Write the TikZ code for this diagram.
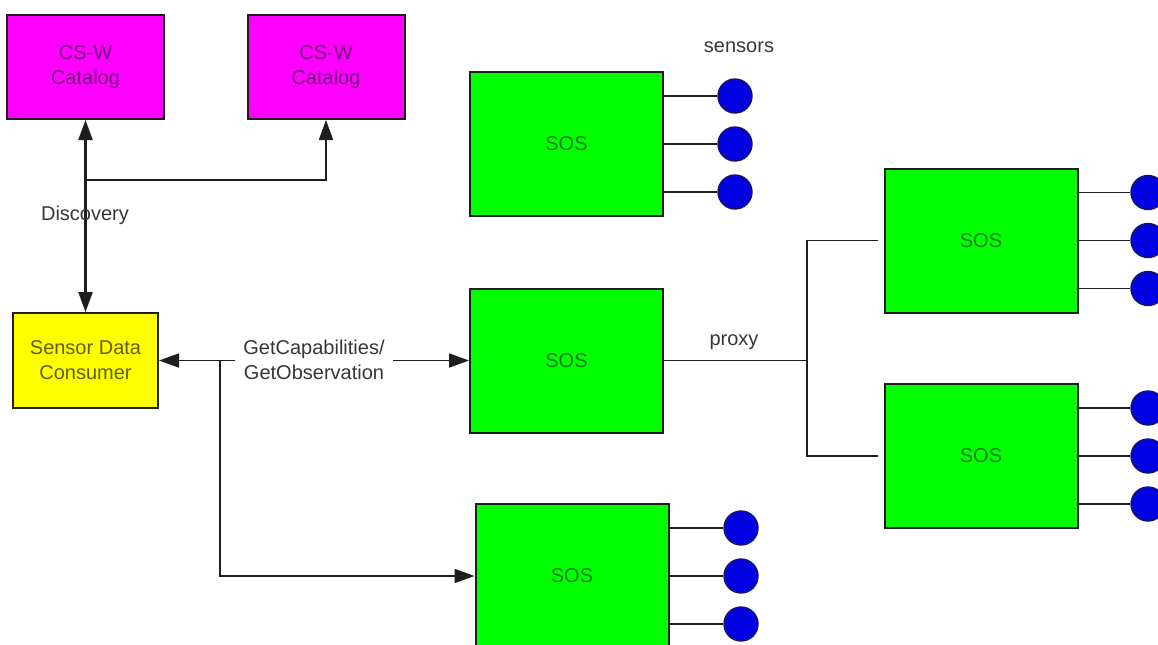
\documentclass[tikz,border=0pt]{standalone}
\usepackage{fontspec}
\setmainfont{Liberation Sans}
\usetikzlibrary{arrows.meta}
\definecolor{mag}{RGB}{255,0,255}
\definecolor{magtext}{RGB}{115,0,125}
\definecolor{yel}{RGB}{255,255,0}
\definecolor{yeltext}{RGB}{95,95,0}
\definecolor{grn}{RGB}{0,255,0}
\definecolor{grntext}{RGB}{0,128,0}
\definecolor{sblue}{RGB}{0,0,225}
\definecolor{sborder}{RGB}{20,20,110}
\definecolor{ltext}{RGB}{55,55,55}
\definecolor{lcol}{RGB}{30,30,30}
\begin{document}
\begin{tikzpicture}[x=0.5pt,y=-0.5pt,
  every node/.style={font=\fontsize{10}{12.5}\selectfont, align=center, inner sep=0pt},
  catbox/.style={draw=lcol, line width=1pt, fill=mag, text=magtext, minimum width=78.5pt, minimum height=52pt},
  consbox/.style={draw=lcol, line width=1pt, fill=yel, text=yeltext, minimum width=72.5pt, minimum height=47.5pt},
  sosbox/.style={draw=lcol, line width=1pt, fill=grn, text=grntext, minimum width=96.5pt, minimum height=72pt},
  sensor/.style={circle, draw=sborder, line width=0.7pt, fill=sblue, minimum size=17pt},
  conn/.style={draw=lcol, line width=0.9pt},
  arr/.style={conn, -{Triangle[length=10pt,width=7pt]}},
  darr/.style={conn, line width=1.1pt, {Triangle[length=10pt,width=7pt]}-{Triangle[length=10pt,width=7pt]}},
  lbl/.style={text=ltext}
]
\useasboundingbox (0,0) rectangle (1158,644);
\clip (0,0) rectangle (1158,644);
\fill[white] (0,0) rectangle (1158,644);

% catalogs
\node[catbox] (cat1) at (85.5,67) {CS-W\\Catalog};
\node[catbox] (cat2) at (326,67) {CS-W\\Catalog};
% consumer
\node[consbox] (cons) at (85.5,360.5) {Sensor Data\\Consumer};
% SOS boxes
\node[sosbox] (sosT) at (566.5,144) {SOS};
\node[sosbox] (sosM) at (566.5,360.5) {SOS};
\node[sosbox] (sosB) at (572,576) {SOS};
\node[sosbox] (sosR1) at (981,240.5) {SOS};
\node[sosbox] (sosR2) at (981,456) {SOS};

% sensors
\foreach \b/\cx in {sosT/735, sosB/741, sosR1/1148, sosR2/1148}{
  \foreach \k/\dy in {a/-48, b/0, c/48}{
    \path (\b.east) ++(0,\dy) coordinate (\b-\k-s);
    \node[sensor] (\b-\k) at (\cx,0 |- \b-\k-s) {};
    \draw[conn] (\b-\k-s) -- (\b-\k.west);
  }
}
\node[lbl] (senslbl) at (739,47) {sensors};

% discovery
\coordinate (dj) at (85.5,180);
\draw[darr] (cat1.south) -- (cons.north);
\draw[arr] (dj) -| (cat2.south);
\node[lbl] (disc) at (85,215) {Discovery};

% GetCapabilities
\coordinate (gj) at (220,360.5);
\draw[arr] (gj) -- (cons.east);
\draw[arr] (gj) -- (sosM.west);
\node[lbl, fill=white, inner xsep=4pt, inner ysep=1pt] (gc) at (314,360) {GetCapabilities/\\GetObservation};
\draw[arr] (gj) |- (sosB.west);

% proxy
\coordinate (pj) at (807,360.5);
\draw[conn] (sosM.east) -- (pj);
\draw[conn] ([xshift=-3pt]sosR1.west) -| (pj) |- ([xshift=-3pt]sosR2.west);
\node[lbl] (proxy) at (734,342) {proxy};
\end{tikzpicture}
\end{document}
